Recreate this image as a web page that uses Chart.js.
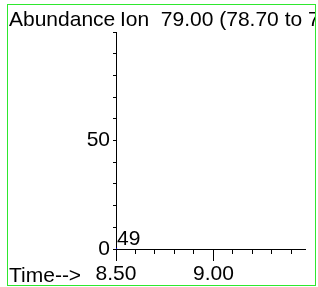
<!DOCTYPE html>
<html>
<head>
<meta charset="utf-8">
<script src="https://cdn.jsdelivr.net/npm/chart.js@4.4.0/dist/chart.umd.min.js"></script>
<style>
    body { margin: 0; background: #fff; }
    #box {
        position: absolute; left: 7px; top: 4px;
        width: 307px; height: 280px;
        border: 1px solid #2ee82e;
    }
    canvas { display: block; }
</style>
</head>
<body>
<div id="box"><canvas id="ticChart" width="307" height="280"></canvas></div>
<script>
// ion chromatogram data
const times = [8.50];
const abundance = [0];
const peakTimes = [8.50];
const peakLabels = ['49'];
const xMajor = [8.5, 9.0];
const yMajor = [0, 50];
const titleText = 'Ion  79.00 (78.70 to 79.70)';

const FAMILY = '"Liberation Sans", Arial, sans-serif';
const FONT = '21px ' + FAMILY;

// extra long ticks at the labelled times + axis texts
const axisText = {
    id: 'axisText',
    afterDraw(chart) {
        const ctx = chart.ctx;
        const xs = chart.scales.x;
        const ys = chart.scales.y;
        ctx.save();
        ctx.strokeStyle = '#000';
        ctx.lineWidth = 1;
        xMajor.forEach(v => {
            const px = Math.round(xs.getPixelForValue(v)) + 0.5;
            ctx.beginPath();
            ctx.moveTo(px, xs.top);
            ctx.lineTo(px, xs.top + 12);
            ctx.stroke();
        });
        ctx.fillStyle = '#000';
        ctx.font = FONT;
        ctx.textBaseline = 'alphabetic';
        ctx.textAlign = 'left';
        ctx.fillText('Abundance', 1, 21);
        ctx.fillText(titleText, 112, 21);
        ctx.fillText('Time-->', 1, 277);
        peakTimes.forEach((t, i) => {
            ctx.fillText(peakLabels[i], xs.getPixelForValue(t) + 1, ys.getPixelForValue(0) - 4);
        });
        ctx.restore();
    }
};

new Chart(document.getElementById('ticChart'), {
    type: 'line',
    data: {
        datasets: [{
            data: times.map((t, i) => ({ x: t, y: abundance[i] })),
            borderColor: '#0000ff',
            backgroundColor: '#0000ff',
            borderWidth: 1,
            pointRadius: 1.2,
            pointBorderWidth: 0
        }]
    },
    options: {
        responsive: false,
        animation: false,
        layout: { padding: { left: 0, right: 10, top: 27, bottom: 0 } },
        plugins: { legend: { display: false }, tooltip: { enabled: false } },
        scales: {
            x: {
                type: 'linear',
                min: 8.5,
                max: 9.47,
                afterFit(s) { s.height = 36; },
                border: { color: '#000', width: 1 },
                grid: { drawOnChartArea: false, tickLength: 5, color: '#000' },
                ticks: {
                    stepSize: 0.1,
                    includeBounds: false,
                    autoSkip: false,
                    maxRotation: 0,
                    padding: 8,
                    color: '#000',
                    font: { family: FAMILY, size: 21 },
                    callback: v => xMajor.some(m => Math.abs(m - v) < 1e-6) ? v.toFixed(2) : ''
                }
            },
            y: {
                min: 0,
                max: 100,
                afterFit(s) { s.width = 108; },
                border: { color: '#000', width: 1 },
                grid: { drawOnChartArea: false, tickLength: 3, color: '#000' },
                ticks: {
                    stepSize: 10,
                    autoSkip: false,
                    padding: 3,
                    color: '#000',
                    font: { family: FAMILY, size: 21 },
                    callback: v => yMajor.includes(v) ? String(v) : ''
                }
            }
        }
    },
    plugins: [axisText]
});
</script>
</body>
</html>
